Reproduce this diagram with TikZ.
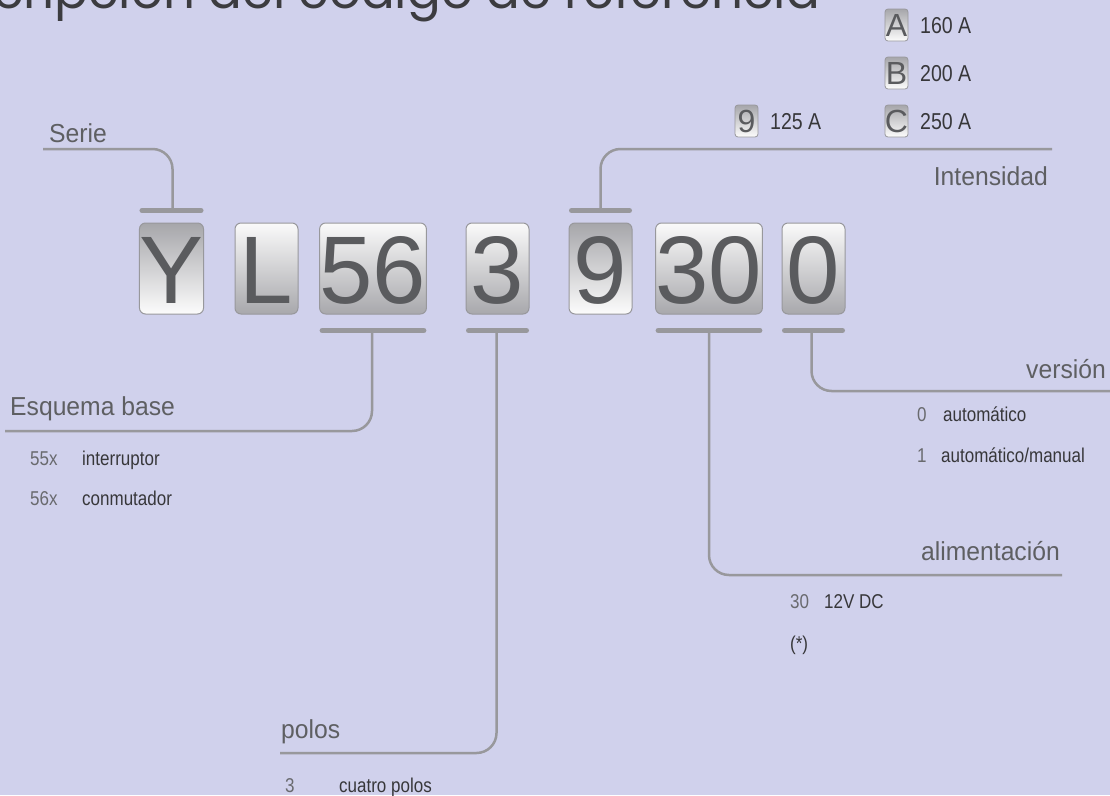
\documentclass[tikz,border=0pt]{standalone}
\usepackage{fontspec}
\setmainfont{Liberation Sans}
\newfontfamily\labfont[FakeStretch=0.95]{Liberation Sans}
\newfontfamily\narfont[FakeStretch=0.85]{Liberation Sans}
\newfontfamily\titlefont{Poppins}
\usetikzlibrary{calc}
\definecolor{bgc}{RGB}{208,209,236}
\definecolor{tileborder}{RGB}{152,152,156}
\definecolor{tiletext}{RGB}{90,91,94}
\definecolor{lighttop}{RGB}{250,250,250}
\definecolor{lightbot}{RGB}{168,168,172}
\definecolor{darktop}{RGB}{166,166,170}
\definecolor{darkbot}{RGB}{252,252,252}
\definecolor{linec}{RGB}{152,152,156}
\definecolor{labc}{RGB}{94,95,98}
\definecolor{codec}{RGB}{105,106,110}
\definecolor{descc}{RGB}{55,55,58}
\definecolor{titlec}{RGB}{60,60,64}
\tikzset{
  tilebox/.style={draw=tileborder, line width=1pt, rounded corners=6pt,
    minimum height=91pt, inner sep=0pt, text=tiletext,
    font=\fontsize{96}{96}\selectfont, text height=69pt, text depth=0pt},
  lighttile/.style={top color=lighttop, bottom color=lightbot},
  darktile/.style={top color=darktop, bottom color=darkbot},
  minitile/.style={draw=tileborder, line width=0.8pt, rounded corners=3pt,
    minimum width=23pt, minimum height=32pt, inner sep=0pt, text=tiletext,
    top color=darktop, bottom color=darkbot,
    font=\fontsize{32}{32}\selectfont, text height=23pt, text depth=0pt},
  bar/.style={draw=linec, line width=5pt, line cap=round},
  conn/.style={draw=linec, line width=2.5pt, rounded corners=20pt},
  lab/.style={inner sep=0pt, text=labc, font=\labfont\fontsize{26}{26}\selectfont},
  code/.style={inner sep=0pt, text=codec, font=\narfont\fontsize{20}{20}\selectfont, anchor=base west},
  desc/.style={inner sep=0pt, text=descc, font=\narfont\fontsize{20}{20}\selectfont, anchor=base west},
  amp/.style={inner sep=0pt, text=descc, font=\narfont\fontsize{23}{23}\selectfont, anchor=base west},
}
\begin{document}
\begin{tikzpicture}[x=1pt,y=-1pt]
\fill[bgc] (0,0) rectangle (1110,795);
\useasboundingbox (0,0) rectangle (1110,795);
\begin{scope}
\clip (0,0) rectangle (1110,795);
\node[anchor=base east, inner sep=0pt, text=titlec, font=\titlefont\fontsize{50}{50}\selectfont] (title) at (820,9) {Descripción del código de referencia};
\end{scope}

% main tiles
\node[tilebox, darktile,  minimum width=63pt] (tY)  at (171.5,268.5) {Y};
\node[tilebox, lighttile, minimum width=63pt] (tL)  at (266.5,268.5) {L};
\node[tilebox, lighttile, minimum width=96pt] (t56) at (373,268.5) {56};
\node[tilebox, lighttile, minimum width=63pt] (t3)  at (497.5,268.5) {3};
\node[tilebox, darktile,  minimum width=63pt] (t9)  at (600.5,268.5) {9};
\node[tilebox, lighttile, minimum width=96pt] (t30) at (709,268.5) {30};
\node[tilebox, lighttile, minimum width=63pt] (t0)  at (813.5,268.5) {0};

% bars
\draw[bar] ($(tY.north west)+(3,-12)$) -- ($(tY.north east)+(-3,-12)$);
\draw[bar] ($(t9.north west)+(3,-12)$) -- ($(t9.north east)+(-3,-12)$);
\draw[bar] ($(t56.south west)+(3,16)$) -- ($(t56.south east)+(-3,16)$);
\draw[bar] ($(t3.south west)+(3,16)$) -- ($(t3.south east)+(-3,16)$);
\draw[bar] ($(t30.south west)+(3,16)$) -- ($(t30.south east)+(-3,16)$);
\draw[bar] ($(t0.south west)+(3,16)$) -- ($(t0.south east)+(-3,16)$);

\coordinate (bY)  at ($(tY.north)+(1,-12)$);
\coordinate (b9)  at ($(t9.north)+(0,-12)$);
\coordinate (b56) at ($(t56.south)+(-1,16)$);
\coordinate (b3)  at ($(t3.south)+(-1,16)$);
\coordinate (b30) at ($(t30.south)+(0,16)$);
\coordinate (b0)  at ($(t0.south)+(-2,16)$);

\coordinate (serieL) at (43,149);
\coordinate (intR)   at (1052,149);
\coordinate (esqL)   at (5,431);
\coordinate (polL)   at (280,753);
\coordinate (aliR)   at (1062,575);
\coordinate (verR)   at (1112,391);

\draw[conn] (serieL) -| (bY);
\draw[conn] (b9) |- (intR);
\draw[conn] (b56) |- (esqL);
\draw[conn] (b3) |- (polL);
\draw[conn] (b30) |- (aliR);
\draw[conn] (b0) |- (verR);

% headings
\node[lab, anchor=base west] (lSerie) at (49,142) {Serie};
\node[lab, anchor=base east] (lInt)   at (1048,185) {Intensidad};
\node[lab, anchor=base west] (lEsq)   at (10,415) {Esquema base};
\node[lab, anchor=base west] (lPol)   at (281,738) {polos};
\node[lab, anchor=base east] (lAli)   at (1060,560) {alimentación};
\node[lab, anchor=base east] (lVer)   at (1106,378) {versión};

% Esquema base options
\node[code] (c55) at (30,465) {55x};
\node[desc] (d55) at (82,465) {interruptor};
\node[code] (c56) at (30,505) {56x};
\node[desc] (d56) at (82,505) {conmutador};

% version options
\node[code] (cv0) at (917,421) {0};
\node[desc] (dv0) at (943,421) {automático};
\node[code] (cv1) at (917,462) {1};
\node[desc] (dv1) at (941,462) {automático/manual};

% alimentacion options
\node[code] (ca30) at (790,608) {30};
\node[desc] (da30) at (824,608) {12V DC};
\node[desc] (dast) at (790,650) {(*)};

% polos options
\node[code] (cp3) at (285,792) {3};
\node[desc] (dp3) at (339,792) {cuatro polos};

% intensidad options
\node[minitile] (m9) at (746.5,121) {9};
\node[amp] (a9) at (770,129) {125 A};
\node[minitile] (mA) at (896.5,25) {A};
\node[amp] (aA) at (920,33) {160 A};
\node[minitile] (mB) at (896.5,73) {B};
\node[amp] (aB) at (920,81) {200 A};
\node[minitile] (mC) at (896.5,121) {C};
\node[amp] (aC) at (920,129) {250 A};
\end{tikzpicture}
\end{document}
